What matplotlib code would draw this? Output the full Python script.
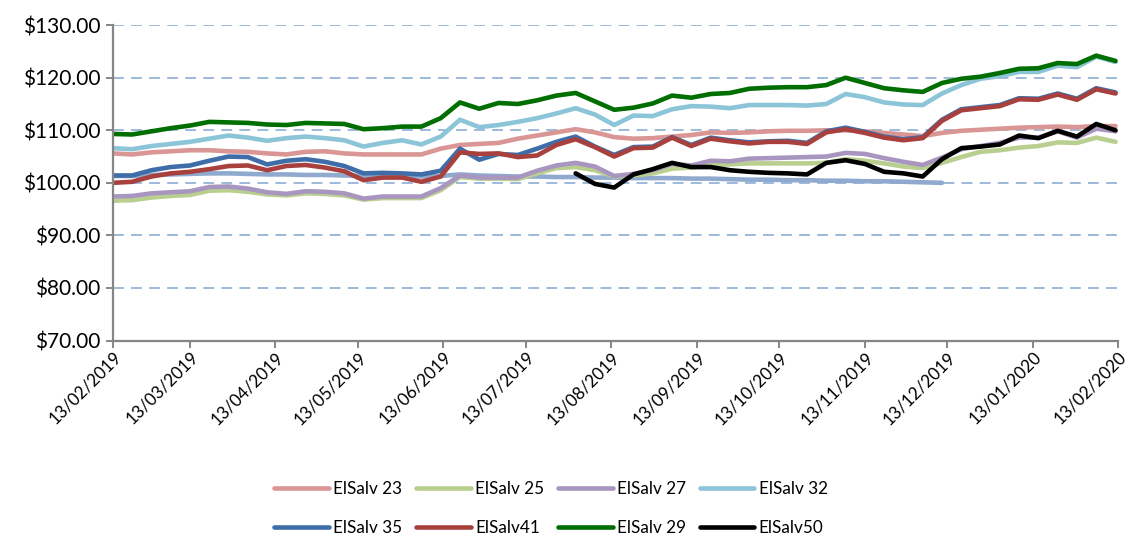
import numpy as np
import pandas as pd
import matplotlib
matplotlib.use("Agg")
import matplotlib.pyplot as plt
import matplotlib.dates as mdates

# weekly readings, 13/02/2019 .. 12/02/2020
dates = pd.date_range("2019-02-13", periods=53, freq="7D")

elsalv23 = [105.6, 105.4, 105.8, 106.0, 106.2, 106.2, 106.0, 105.9, 105.6, 105.4,
            105.9, 106.0, 105.6, 105.4, 105.4, 105.4, 105.4, 106.5, 107.2, 107.4,
            107.6, 108.4, 109.0, 109.6, 110.2, 109.6, 108.7, 108.4, 108.5, 108.8,
            109.1, 109.6, 109.5, 109.6, 109.8, 109.9, 109.9, 110.0, 110.0, 109.8,
            109.5, 109.2, 108.9, 109.5, 109.9, 110.1, 110.3, 110.5, 110.6, 110.7,
            110.6, 110.8, 110.8]
elsalv25 = [96.6, 96.7, 97.2, 97.5, 97.7, 98.5, 98.6, 98.3, 97.8, 97.6,
            98.0, 97.9, 97.6, 96.8, 97.1, 97.1, 97.1, 98.6, 101.1, 100.8,
            100.8, 100.7, 101.8, 102.8, 103.0, 102.4, 101.2, 101.4, 101.8, 102.7,
            102.9, 103.4, 103.5, 103.7, 103.7, 103.7, 103.7, 103.8, 104.5, 104.2,
            103.7, 103.1, 102.8, 103.8, 104.9, 105.9, 106.2, 106.7, 107.0, 107.7,
            107.6, 108.6, 107.8]
elsalv27 = [97.4, 97.5, 98.0, 98.2, 98.4, 99.2, 99.3, 98.9, 98.2, 97.9,
            98.4, 98.3, 98.0, 97.0, 97.4, 97.4, 97.4, 99.0, 101.4, 101.0,
            101.0, 101.0, 102.3, 103.3, 103.8, 103.1, 101.3, 101.7, 102.4, 103.6,
            103.3, 104.2, 104.1, 104.6, 104.7, 104.8, 104.9, 105.0, 105.7, 105.5,
            104.7, 104.0, 103.4, 104.8, 106.4, 107.0, 107.6, 108.6, 108.6, 109.8,
            108.6, 110.3, 109.8]
elsalv32 = [106.6, 106.4, 107.0, 107.4, 107.8, 108.4, 109.0, 108.6, 108.0, 108.5,
            108.8, 108.5, 108.1, 106.9, 107.6, 108.1, 107.3, 108.8, 112.0, 110.6,
            111.0, 111.6, 112.3, 113.2, 114.2, 113.0, 111.0, 112.8, 112.7, 114.0,
            114.6, 114.5, 114.2, 114.8, 114.8, 114.8, 114.7, 115.0, 116.9, 116.3,
            115.3, 114.9, 114.8, 117.0, 118.6, 119.8, 120.3, 121.1, 121.1, 122.3,
            122.0, 124.0, 123.0]
elsalv35 = [101.4, 101.4, 102.4, 103.0, 103.3, 104.2, 105.0, 104.9, 103.5, 104.2,
            104.5, 104.0, 103.2, 101.8, 101.9, 101.8, 101.6, 102.3, 106.5, 104.4,
            105.5, 105.3, 106.5, 107.8, 108.8, 106.9, 105.3, 106.8, 106.9, 108.7,
            107.2, 108.6, 108.1, 107.7, 107.9, 108.0, 107.6, 109.8, 110.5, 109.7,
            108.8, 108.3, 108.7, 112.0, 114.0, 114.4, 114.8, 116.1, 116.0, 117.0,
            116.0, 118.0, 117.2]
elsalv41 = [100.0, 100.2, 101.2, 101.8, 102.1, 102.6, 103.2, 103.3, 102.4, 103.2,
            103.4, 102.9, 102.2, 100.5, 101.0, 101.0, 100.2, 101.2, 105.8, 105.5,
            105.6, 104.9, 105.2, 107.2, 108.3, 106.8, 105.0, 106.6, 106.7, 108.6,
            107.0, 108.4, 107.9, 107.5, 107.8, 107.8, 107.4, 109.6, 110.2, 109.5,
            108.6, 108.1, 108.5, 111.8, 113.8, 114.2, 114.6, 115.9, 115.8, 116.8,
            115.8, 117.8, 117.0]
elsalv29 = [109.3, 109.2, 109.8, 110.4, 110.9, 111.6, 111.5, 111.4, 111.1, 111.0,
            111.4, 111.3, 111.2, 110.2, 110.4, 110.7, 110.7, 112.3, 115.3, 114.1,
            115.2, 115.0, 115.7, 116.6, 117.1, 115.5, 113.9, 114.3, 115.1, 116.6,
            116.2, 116.9, 117.1, 117.9, 118.1, 118.2, 118.2, 118.6, 120.0, 119.0,
            118.0, 117.6, 117.3, 119.0, 119.8, 120.2, 120.9, 121.7, 121.8, 122.8,
            122.6, 124.2, 123.2]
# ElSalv50 only starts at the end of July
elsalv50 = [np.nan] * 24 + [
            101.8, 99.8, 99.1, 101.6, 102.6, 103.8, 103.0, 103.0, 102.4, 102.1,
            101.9, 101.8, 101.6, 103.8, 104.3, 103.6, 102.1, 101.8, 101.2, 104.5,
            106.6, 106.9, 107.3, 109.0, 108.5, 109.9, 108.8, 111.2, 110.0]
# series with no legend entry, stops in December
unnamed = [101.3, 101.3, 101.5, 101.6, 101.7, 101.8, 101.8, 101.7, 101.6, 101.6,
           101.5, 101.5, 101.4, 101.3, 101.3, 101.2, 101.2, 101.3, 101.6, 101.4,
           101.3, 101.2, 101.2, 101.1, 101.1, 101.0, 101.0, 100.9, 100.9, 100.9,
           100.8, 100.8, 100.7, 100.6, 100.6, 100.5, 100.5, 100.4, 100.4, 100.3,
           100.3, 100.2, 100.1, 100.0] + [np.nan] * 9

names = ["ElSalv 23", "ElSalv 25", "ElSalv 27", "ElSalv 32",
         "ElSalv 35", "ElSalv41", "ElSalv 29", "ElSalv50"]
series = [elsalv23, elsalv25, elsalv27, elsalv32, elsalv35, elsalv41, elsalv29, elsalv50]
colors = ["#D99694", "#B9CF8F", "#A996C0", "#8CC4D8",
          "#3F6DA8", "#A8403D", "#006E00", "#000000"]

plt.rcParams["font.family"] = ["Lato", "DejaVu Sans"]

fig = plt.figure(figsize=(11.29, 5.47), dpi=100)
ax = fig.add_axes([0.100, 0.3775, 0.8905, 0.5765])

ax.plot(dates, unnamed, color="#8FA9CF", lw=3.3, solid_capstyle="round")
lines = {}
for name, vals, c in zip(names, series, colors):
    ln, = ax.plot(dates, vals, color=c, lw=3.3, label=name, solid_capstyle="round")
    lines[name] = ln

ax.set_ylim(70, 130)
ax.set_yticks(range(70, 131, 10))
ax.yaxis.set_major_formatter(matplotlib.ticker.StrMethodFormatter("${x:,.2f}"))
ax.set_xlim(pd.Timestamp("2019-02-13"), pd.Timestamp("2020-02-13"))
ax.xaxis.set_major_locator(mdates.MonthLocator(bymonthday=13))
ax.xaxis.set_major_formatter(mdates.DateFormatter("%d/%m/%Y"))

for v in range(80, 131, 10):
    ax.axhline(v, color="#95B3D7", lw=1.3, ls=(0, (6, 4)), zorder=0)

for s in ["top", "right"]:
    ax.spines[s].set_visible(False)
for s in ["left", "bottom"]:
    ax.spines[s].set_color("#868686")
    ax.spines[s].set_linewidth(1.6)

ax.tick_params(axis="y", labelsize=15, length=5, width=1.4, color="#868686", pad=4)
ax.tick_params(axis="x", labelsize=12.3, length=5, width=1.4, color="#868686", pad=1)
plt.setp(ax.get_xticklabels(), rotation=45, ha="right", rotation_mode="anchor")

# legend rows: 23 25 27 32 / 35 41 29 50 (matplotlib fills column-wise)
order = ["ElSalv 23", "ElSalv 35", "ElSalv 25", "ElSalv41",
         "ElSalv 27", "ElSalv 29", "ElSalv 32", "ElSalv50"]
fig.legend([lines[n] for n in order], order, loc="center", ncol=4,
           bbox_to_anchor=(0.488, 0.07), frameon=False, fontsize=12.3,
           handlelength=3.2, handletextpad=0.25, columnspacing=0.8,
           labelspacing=1.35)

fig.savefig("out.png", dpi=100)
